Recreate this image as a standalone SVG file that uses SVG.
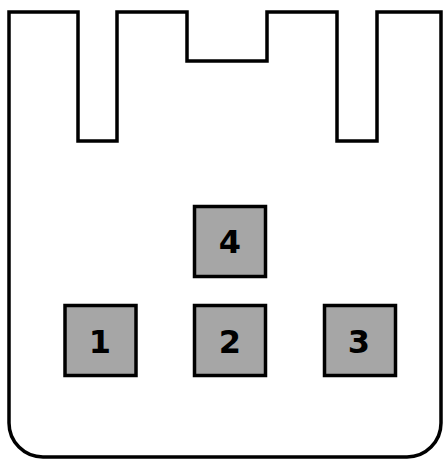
<svg xmlns="http://www.w3.org/2000/svg" width="445" height="461" viewBox="0 0 445 461">
<style>
.outline{fill:#fff;stroke:#000;stroke-width:3.5;stroke-linejoin:miter}
.box{fill:#a6a6a6;stroke:#000;stroke-width:3.5}
.lbl{font-family:"DejaVu Sans",Verdana,sans-serif;font-weight:bold;font-size:32px;text-anchor:middle;fill:#000}
</style>
<rect width="445" height="461" fill="#fff"/>
<g id="container">
<path class="outline" d="M 9 12 H 78 V 141 H 117 V 12 H 187 V 61 H 267 V 12 H 337 V 141 H 377 V 12 H 441 V 423 A 34 34 0 0 1 407 457 H 43 A 34 34 0 0 1 9 423 Z"/>
</g>
<g id="connectors"></g>
<g id="node4"><rect class="box" x="194.5" y="206.5" width="71" height="70"/><text class="lbl" x="230" y="253">4</text></g>
<g id="node1"><rect class="box" x="65" y="305.5" width="71" height="70"/><text class="lbl" x="100" y="352.5">1</text></g>
<g id="node2"><rect class="box" x="194.5" y="305.5" width="71" height="70"/><text class="lbl" x="230" y="352.5">2</text></g>
<g id="node3"><rect class="box" x="324.5" y="305.5" width="71" height="70"/><text class="lbl" x="359" y="352.5">3</text></g>
</svg>
